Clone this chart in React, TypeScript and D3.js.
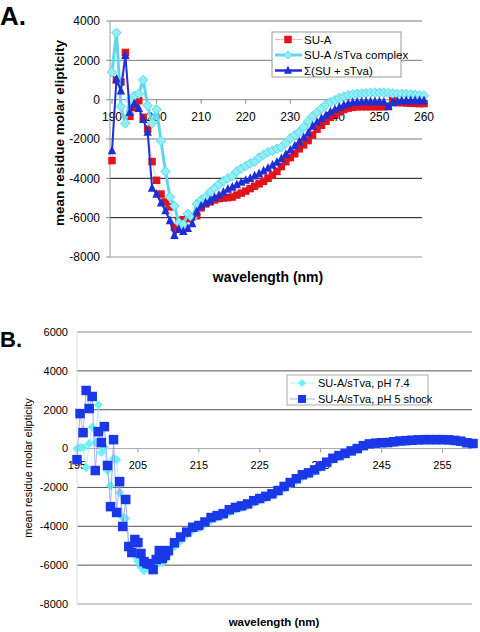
import React from "react";
import * as d3 from "d3";

// ---------- Panel A data ----------
const wlA = d3.range(190, 261);
const suA = [
  -3100, 1000, 900, 2400, -850, -400, -50, -900, -1500, -3150,
  -4100, -4800, -5200, -5450, -6500, -6150, -6100, -6050, -5950, -5900,
  -5500, -5300, -5200, -5100, -5030, -5000, -4980, -4950, -4850, -4750,
  -4650, -4520, -4400, -4280, -4150, -4000, -3850, -3650, -3400, -3150,
  -2950, -2750, -2500, -2300, -2080, -1800, -1500, -1300, -1100, -900,
  -750, -620, -500, -430, -390, -360, -360, -360, -360, -360,
  -360, -360, -350, -50, -150, -150, -170, -180, -190, -200,
  -200,
];
const complexA = [
  1400, 3400, -350, -1200, 0, 200, 300, 1000, -300, -1200,
  -500, -2100, -3650, -4950, -5400, -6250, -6350, -5800, -6000, -5300,
  -5100, -4950, -4700, -4500, -4300, -4150, -4000, -3900, -3650, -3500,
  -3380, -3250, -3150, -2950, -2800, -2680, -2600, -2500, -2420, -2200,
  -1980, -1800, -1650, -1400, -1100, -850, -650, -450, -250, -120,
  -30, 80, 150, 230, 270, 300, 310, 330, 350, 360,
  360, 360, 340, 310, 300, 300, 290, 270, 250, 230,
  210,
];
const sumA = [
  -2600, 1050, 450, 2250, -650, -200, -450, -1000, -1650, -4500,
  -4800, -5250, -5650, -6150, -6900, -6600, -6700, -6550, -6300, -5700,
  -5400, -5250, -5130, -4980, -4850, -4700, -4550, -4450, -4320, -4200,
  -4100, -4000, -3880, -3760, -3620, -3480, -3330, -3180, -3000, -2780,
  -2560, -2350, -2150, -1930, -1700, -1350, -1150, -950, -800, -620,
  -500, -380, -280, -200, -150, -120, -110, -100, -100, -100,
  -100, -120, -350, -150, -80, -60, -50, -50, -50, -50,
  -50,
];
const xTicksA = [190, 200, 210, 220, 230, 240, 250, 260];
const yTicksA = [4000, 2000, 0, -2000, -4000, -6000, -8000];
const legendA = ["SU-A", "SU-A /sTva complex", "\u03A3(SU + sTva)"];

// ---------- Panel B data ----------
const wlB = [...d3.range(195, 210.25, 0.5), ...d3.range(211, 261)];
const ph74 = [
  0, 50, 50, -980, 250, 1100, 310, 2250, -200, 50,
  -1130, -1900, -510, -570, -2260, -3550, -3600, -5000, -5300, -5500,
  -5800, -6100, -6300, -6120, -6000, -5900, -5950, -5900, -5870, -5700, -5450,
  -5050, -4750, -4450, -4200, -4100, -3900, -3700, -3550, -3450, -3300,
  -3150, -3050, -2950, -2800, -2650, -2520, -2400, -2250, -2050, -1850,
  -1650, -1450, -1330, -1180, -980, -780, -580, -420, -300, -170,
  -50, 100, 200, 240, 270, 280, 300, 330, 350, 380,
  400, 400, 400, 400, 400, 380, 350, 320, 260, 220,
];
const ph5 = [
  -570, 1800, 820, 2990, 2060, 2680, -1130, 870, 310, 1130,
  -870, -2990, 460, -3290, -1700, -4010, -2620, -5040, -5350, -4680,
  -4840, -5400, -5820, -5920, -5950, -6230, -5710, -5250, -5660, -5500, -5250,
  -4850, -4550, -4300, -4050, -3960, -3780, -3550, -3450, -3350, -3150,
  -3030, -2950, -2850, -2680, -2570, -2460, -2330, -2160, -1950, -1750,
  -1550, -1350, -1250, -1100, -900, -700, -500, -360, -250, -120,
  0, 150, 240, 280, 300, 310, 350, 390, 410, 430,
  450, 460, 460, 460, 460, 450, 420, 380, 300, 260,
];
const xTicksB = [195, 205, 215, 225, 235, 245, 255];
const yTicksB = [6000, 4000, 2000, 0, -2000, -4000, -6000, -8000];
const legendB = ["SU-A/sTva, pH 7.4", "SU-A/sTva, pH 5 shock"];

const FONT = "'Liberation Sans', Arial, Helvetica, sans-serif";

const sq = (s: number) => `M${-s / 2},${-s / 2}h${s}v${s}h${-s}Z`;
const dia = (r: number) => `M0,${-r}L${r},0L0,${r}L${-r},0Z`;
const tri = (s: number) => `M0,${-s * 0.6}L${s / 2},${s * 0.42}L${-s / 2},${s * 0.42}Z`;

const RED = "#e3121b";
const CYAN_LINE = "#5fd6f0";
const CYAN_FILL = "#8ef0f4";
const BLUE = "#1f2fd4";
const BLUE_B = "#1a38e8";
const CYAN_B = "#6ff0fb";

function PanelA() {
  const x = d3.scaleLinear().domain([190, 260]).range([112, 424]);
  const y = d3.scaleLinear().domain([-8000, 4000]).range([257, 21]);
  const left = 110;
  const right = 422;
  const line = (vals: number[]) =>
    d3.line<number>().x((_, i) => x(wlA[i])).y((v) => y(v))(vals) || "";
  const gridColor = (v: number) =>
    v === -4000 || v === -6000 ? "#111" : v === -8000 ? "#bbb" : v === 0 ? "#888" : "#777";
  return (
    <g>
      <text x={0} y={25} fontFamily={FONT} fontWeight="bold" fontSize={26}>A.</text>
      {yTicksA.map((v) => (
        <g key={v}>
          <line x1={left} x2={right} y1={y(v)} y2={y(v)} stroke={gridColor(v)} strokeWidth={v === -8000 ? 1.5 : 1} />
          <line x1={left - 4} x2={left} y1={y(v)} y2={y(v)} stroke="#888" />
          <text x={100} y={y(v)} dy="0.35em" textAnchor="end" fontFamily={FONT} fontSize={12}>{v}</text>
        </g>
      ))}
      <line x1={left} x2={left} y1={y(4000)} y2={y(-8000)} stroke="#999" />
      {xTicksA.map((t) => (
        <g key={t}>
          <line x1={x(t)} x2={x(t)} y1={y(0)} y2={y(0) + 4} stroke="#888" />
          <text x={x(t)} y={y(0) + 21} textAnchor="middle" fontFamily={FONT} fontSize={12}>{t}</text>
        </g>
      ))}
      {/* SU-A */}
      <path d={line(suA)} fill="none" stroke="#f4a0a4" strokeWidth={0.6} />
      {suA.map((v, i) => (
        <path key={"r" + i} d={sq(7.5)} transform={`translate(${x(wlA[i])},${y(v)})`} fill={RED} />
      ))}
      {/* complex */}
      <path d={line(complexA)} fill="none" stroke={CYAN_LINE} strokeWidth={3} />
      {complexA.map((v, i) => (
        <path key={"c" + i} d={dia(4.8)} transform={`translate(${x(wlA[i])},${y(v)})`} fill={CYAN_FILL} stroke={CYAN_LINE} strokeWidth={1} />
      ))}
      {/* sum */}
      <path d={line(sumA)} fill="none" stroke={BLUE} strokeWidth={2} />
      {sumA.map((v, i) => (
        <path key={"b" + i} d={tri(8.5)} transform={`translate(${x(wlA[i])},${y(v)})`} fill={BLUE} />
      ))}
      {/* legend */}
      <rect x={272} y={32} width={129} height={45} fill="#fff" stroke="#999" />
      {legendA.map((name, i) => {
        const cy = 39.5 + i * 15.5;
        return (
          <g key={name}>
            {i === 0 && <line x1={275} x2={302} y1={cy} y2={cy} stroke="#f4a0a4" strokeWidth={0.8} />}
            {i === 0 && <path d={sq(7.5)} transform={`translate(288,${cy})`} fill={RED} />}
            {i === 1 && <line x1={275} x2={302} y1={cy} y2={cy} stroke={CYAN_LINE} strokeWidth={3} />}
            {i === 1 && <path d={dia(4)} transform={`translate(288,${cy})`} fill={CYAN_FILL} stroke={CYAN_LINE} />}
            {i === 2 && <line x1={275} x2={302} y1={cy} y2={cy} stroke={BLUE} strokeWidth={2.5} />}
            {i === 2 && <path d={tri(8)} transform={`translate(288,${cy})`} fill={BLUE} />}
            <text x={304} y={cy} dy="0.35em" fontFamily={FONT} fontSize={11.5}>{name}</text>
          </g>
        );
      })}
      <text transform={`translate(64,${133}) rotate(-90)`} textAnchor="middle" fontFamily={FONT} fontWeight="bold" fontSize={13.5}>
        mean residue molar elipticity
      </text>
      <text x={268} y={282} textAnchor="middle" fontFamily={FONT} fontWeight="bold" fontSize={14}>wavelength (nm)</text>
    </g>
  );
}

function PanelB() {
  const x = d3.scaleLinear().domain([195, 260]).range([77, 473]);
  const y = d3.scaleLinear().domain([-8000, 6000]).range([604, 332]);
  const left = 77;
  const right = 472;
  const line = (vals: number[]) =>
    d3.line<number>().x((_, i) => x(wlB[i])).y((v) => y(v))(vals) || "";
  const gridColor = (v: number) =>
    v === 6000 ? "#888" : v === -8000 ? "#bbb" : v === 0 ? "#aaa" : "#555";
  return (
    <g>
      <text x={0} y={347} fontFamily={FONT} fontWeight="bold" fontSize={22}>B.</text>
      {yTicksB.map((v) => (
        <g key={v}>
          <line x1={left} x2={right} y1={y(v)} y2={y(v)} stroke={gridColor(v)} strokeWidth={v === -8000 ? 1.5 : 1} />
          <text x={68} y={y(v)} dy="0.35em" textAnchor="end" fontFamily={FONT} fontSize={11}>{v}</text>
        </g>
      ))}
      <line x1={left} x2={left} y1={y(6000)} y2={y(-8000)} stroke="#ddd" />
      {xTicksB.map((t) => (
        <g key={t}>
          <line x1={x(t)} x2={x(t)} y1={y(0)} y2={y(0) + 4} stroke="#999" />
          <text x={x(t)} y={y(0) + 20} textAnchor="middle" fontFamily={FONT} fontSize={11}>{t}</text>
        </g>
      ))}
      <path d={line(ph74)} fill="none" stroke="#8ce8f6" strokeWidth={0.7} />
      {ph74.map((v, i) => (
        <path key={"c" + i} d={dia(4.6)} transform={`translate(${x(wlB[i])},${y(v)})`} fill={CYAN_B} />
      ))}
      <path d={line(ph5)} fill="none" stroke="#7f8ff0" strokeWidth={0.7} />
      {ph5.map((v, i) => (
        <path key={"b" + i} d={sq(9.5)} transform={`translate(${x(wlB[i])},${y(v)})`} fill={BLUE_B} />
      ))}
      <rect x={287} y={375} width={141} height={30} fill="#fff" stroke="#aaa" />
      {legendB.map((name, i) => {
        const cy = 383 + i * 16;
        return (
          <g key={name}>
            <line x1={290} x2={315} y1={cy} y2={cy} stroke={i === 0 ? "#8ce8f6" : "#7f8ff0"} strokeWidth={0.7} />
            {i === 0 ? (
              <path d={dia(4)} transform={`translate(302,${cy})`} fill={CYAN_B} />
            ) : (
              <path d={sq(8)} transform={`translate(302,${cy})`} fill={BLUE_B} />
            )}
            <text x={318} y={cy} dy="0.35em" fontFamily={FONT} fontSize={11}>{name}</text>
          </g>
        );
      })}
      <text transform={`translate(32,${468}) rotate(-90)`} textAnchor="middle" fontFamily={FONT} fontSize={11}>
        mean residue molar elipticity
      </text>
      <text x={274} y={626} textAnchor="middle" fontFamily={FONT} fontWeight="bold" fontSize={11.5}>wavelength (nm)</text>
    </g>
  );
}

export default function App() {
  return (
    <svg
      width={480}
      height={632}
      style={{ position: "absolute", left: 0, top: 0, background: "#fff" }}
    >
      <rect width={480} height={632} fill="#fff" />
      <PanelA />
      <PanelB />
    </svg>
  );
}
